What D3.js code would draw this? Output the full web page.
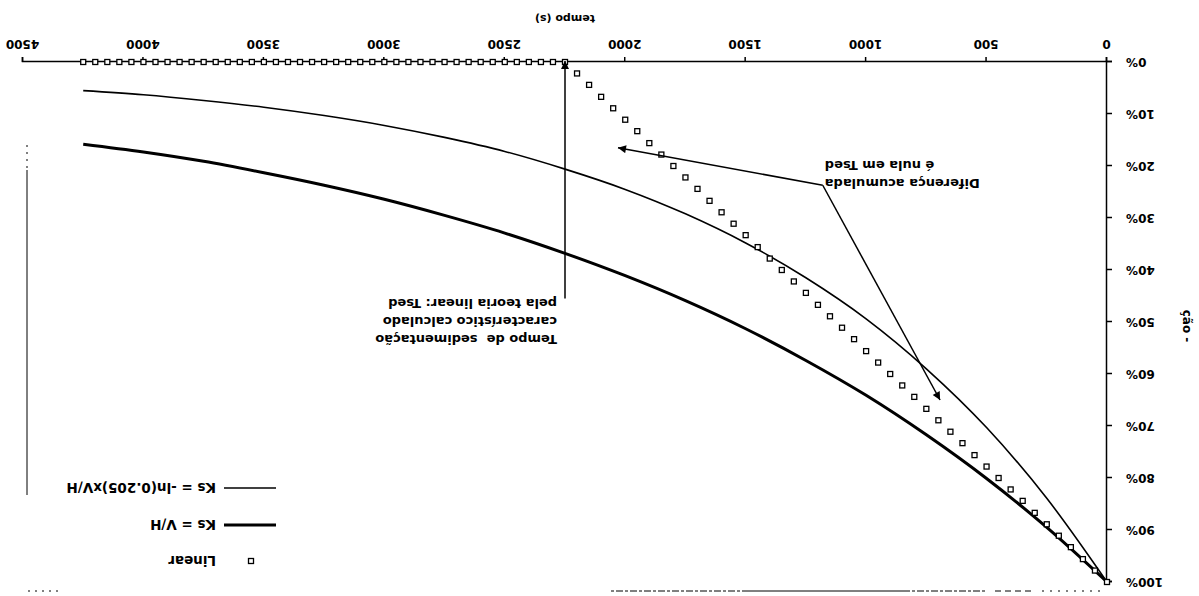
<!DOCTYPE html>
<html>
<head>
<meta charset="utf-8">
<script src="https://cdn.jsdelivr.net/npm/d3@7"></script>
<style>
  body { margin: 0; background: #fff; }
  svg { display: block; }
  text { font-family: "DejaVu Sans", sans-serif; font-weight: bold; fill: #000; }
</style>
</head>
<body>
<div id="chart"></div>
<script>
// tempo (s) of the "Linear" points, one every 50 s
const tempoLinear = [
  0, 50, 100, 150, 200, 250, 300, 350, 400, 450, 500, 550, 600, 650, 700, 750, 800, 850, 900, 950,
  1000, 1050, 1100, 1150, 1200, 1250, 1300, 1350, 1400, 1450, 1500, 1550, 1600, 1650, 1700, 1750,
  1800, 1850, 1900, 1950, 2000, 2050, 2100, 2150, 2200, 2250, 2300, 2350, 2400, 2450, 2500, 2550,
  2600, 2650, 2700, 2750, 2800, 2850, 2900, 2950, 3000, 3050, 3100, 3150, 3200, 3250, 3300, 3350,
  3400, 3450, 3500, 3550, 3600, 3650, 3700, 3750, 3800, 3850, 3900, 3950, 4000, 4050, 4100, 4150,
  4200, 4250
];
// fraction (%)
const linear = [
  100, 97.8, 95.6, 93.3, 91.1, 88.9, 86.7, 84.4, 82.2, 80.0, 77.8, 75.6, 73.3, 71.1, 68.9, 66.7,
  64.4, 62.2, 60.0, 57.8, 55.6, 53.3, 51.1, 48.9, 46.7, 44.4, 42.2, 40.0, 37.8, 35.6, 33.3, 31.1,
  28.9, 26.7, 24.4, 22.2, 20.0, 17.8, 15.6, 13.3, 11.1, 8.9, 6.7, 4.4, 2.2, 0, 0, 0, 0, 0, 0, 0,
  0, 0, 0, 0, 0, 0, 0, 0, 0, 0, 0, 0, 0, 0, 0, 0, 0, 0, 0, 0, 0, 0, 0, 0, 0, 0, 0, 0, 0, 0, 0, 0,
  0, 0
];
// the two curves, read every 250 s
const tempoCurvas = [0, 250, 500, 750, 1000, 1250, 1500, 1750, 2000, 2250, 2500, 2750, 3000, 3250, 3500, 3750, 4000, 4250];
const ksVH = [100, 89.5, 80.1, 71.7, 64.1, 57.4, 51.3, 45.9, 41.1, 36.8, 32.9, 29.5, 26.4, 23.7, 21.3, 19.1, 17.3, 15.8];
const ksLn = [100, 83.9, 70.3, 59.0, 49.4, 41.5, 34.8, 29.2, 24.5, 20.6, 17.2, 14.5, 12.2, 10.3, 8.7, 7.4, 6.3, 5.5];

const xTicks = [0, 500, 1000, 1500, 2000, 2500, 3000, 3500, 4000, 4500];
const yTicks = [0, 0.1, 0.2, 0.3, 0.4, 0.5, 0.6, 0.7, 0.8, 0.9, 1];
const legendLabels = ["Linear", "Ks = V/H", "Ks = -ln(0.205)xV/H"];
const tsed = 2250;

const width = 1199, height = 596;

const svg = d3.select("#chart").append("svg")
    .attr("width", width)
    .attr("height", height);

svg.append("defs").append("marker")
    .attr("id", "seta")
    .attr("viewBox", "0 0 10 10")
    .attr("refX", 10).attr("refY", 5)
    .attr("markerUnits", "userSpaceOnUse")
    .attr("markerWidth", 10).attr("markerHeight", 8)
    .attr("orient", "auto")
  .append("path")
    .attr("d", "M0,0L10,5L0,10z")
    .attr("fill", "#000");

// the reference picture is upside down: draw the chart normally, then turn it 180°
const g = svg.append("g")
    .attr("transform", `rotate(180 ${width / 2} ${height / 2})`);

const x = d3.scaleLinear().domain([0, 4500]).range([92, 1176]);
const y = d3.scaleLinear().domain([0, 1]).range([534, 14]);

// plot area border (only fragments of it survive in the reference)
const right = x.range()[1] - 4;
const borda = g.append("g").attr("fill", "none").attr("stroke", "#000").attr("stroke-width", 1);
borda.append("line").attr("x1", right).attr("x2", right).attr("y1", 101).attr("y2", 426);
borda.append("line").attr("x1", right).attr("x2", right).attr("y1", 428).attr("y2", 452)
    .attr("stroke-dasharray", "2,5");
const topo = y(1) - 9;
[[99, 158, "2,6"], [168, 208, "6,4"], [214, 296, "3,2,7,2"], [296, 450, null], [450, 590, "7,2,3,2"], [1141, 1171, "2,5"]]
  .forEach(([a, b, dash]) => {
    borda.append("line")
        .attr("x1", a).attr("x2", b)
        .attr("y1", topo).attr("y2", topo)
        .attr("stroke-dasharray", dash);
  });

// axes
const xAxis = g.append("g")
    .attr("transform", `translate(0,${y(0)})`)
    .call(d3.axisBottom(x).tickValues(xTicks).tickSize(5).tickPadding(8).tickFormat(d3.format("d")));
const yAxis = g.append("g")
    .attr("transform", `translate(${x(0)},0)`)
    .call(d3.axisLeft(y).tickValues(yTicks).tickSize(5).tickPadding(14).tickFormat(d3.format(".0%")));
[xAxis, yAxis].forEach(a => {
  a.attr("font-family", null).attr("font-size", 12);
  a.selectAll("path, line").attr("stroke", "#000").attr("stroke-width", 1.5);
});

g.append("text")
    .attr("x", x(tsed)).attr("y", 581)
    .attr("text-anchor", "middle")
    .attr("font-size", 11)
    .text("tempo (s)");

g.append("text")
    .attr("transform", `translate(16,${y(0.5) - 4}) rotate(-90)`)
    .attr("text-anchor", "middle")
    .attr("font-size", 12)
    .text("ção -");

// curves
const line = d3.line()
    .x((d, i) => x(tempoCurvas[i]))
    .y(d => y(d / 100))
    .curve(d3.curveMonotoneX);

g.append("path")
    .datum(ksLn)
    .attr("fill", "none").attr("stroke", "#000").attr("stroke-width", 1.6)
    .attr("d", line);

g.append("path")
    .datum(ksVH)
    .attr("fill", "none").attr("stroke", "#000").attr("stroke-width", 3)
    .attr("d", line);

// linear theory: open squares
g.selectAll("rect.linear")
    .data(linear)
    .enter()
    .append("rect")
      .attr("class", "linear")
      .attr("x", (d, i) => x(tempoLinear[i]) - 2.5)
      .attr("y", d => y(d / 100) - 2.5)
      .attr("width", 5).attr("height", 5)
      .attr("fill", "#fff")
      .attr("stroke", "#000")
      .attr("stroke-width", 1.3);

// annotation: Tsed arrow
const anotTopo = 0.455;
g.append("line")
    .attr("x1", x(tsed)).attr("x2", x(tsed))
    .attr("y1", y(anotTopo)).attr("y2", y(0) + 1)
    .attr("stroke", "#000").attr("stroke-width", 1.5)
    .attr("marker-end", "url(#seta)");

g.append("g")
    .attr("font-size", 13)
    .selectAll("text")
    .data(["Tempo de  sedimentação", "característico calculado", "pela teoria linear: Tsed"])
    .enter()
    .append("text")
      .attr("x", x(tsed) + 8)
      .attr("y", (d, i) => y(anotTopo) - 36 + i * 18)
      .style("white-space", "pre")
      .text(d => d);

// annotation: cumulative difference arrows
const juncao = [1180, 0.237];
const alvos = [[2030, 0.165], [693, 0.65]];
alvos.forEach(([t, v]) => {
  g.append("line")
      .attr("x1", x(juncao[0])).attr("y1", y(juncao[1]))
      .attr("x2", x(t)).attr("y2", y(v))
      .attr("stroke", "#000").attr("stroke-width", 1.5)
      .attr("marker-end", "url(#seta)");
});

g.append("g")
    .attr("font-size", 13)
    .attr("text-anchor", "end")
    .selectAll("text")
    .data(["Diferença acumulada", "é nula em Tsed"])
    .enter()
    .append("text")
      .attr("x", x(juncao[0]) - 2)
      .attr("y", (d, i) => y(juncao[1]) + 6 + i * 18)
      .text(d => d);

// legend
const leg = g.append("g").attr("font-size", 13.5);
const rowY = [35, 71, 108];
legendLabels.forEach((lab, i) => {
  const row = leg.append("g").attr("transform", `translate(0,${rowY[i]})`);
  if (i === 0) {
    row.append("rect")
        .attr("x", 945.5).attr("y", -2.5).attr("width", 5).attr("height", 5)
        .attr("fill", "#fff").attr("stroke", "#000").attr("stroke-width", 1.3);
  } else {
    row.append("line")
        .attr("x1", 923).attr("x2", 975)
        .attr("stroke", "#000").attr("stroke-width", i === 1 ? 3 : 1.6);
  }
  row.append("text")
      .attr("x", 983).attr("dy", "0.35em")
      .text(lab);
});
</script>
</body>
</html>
